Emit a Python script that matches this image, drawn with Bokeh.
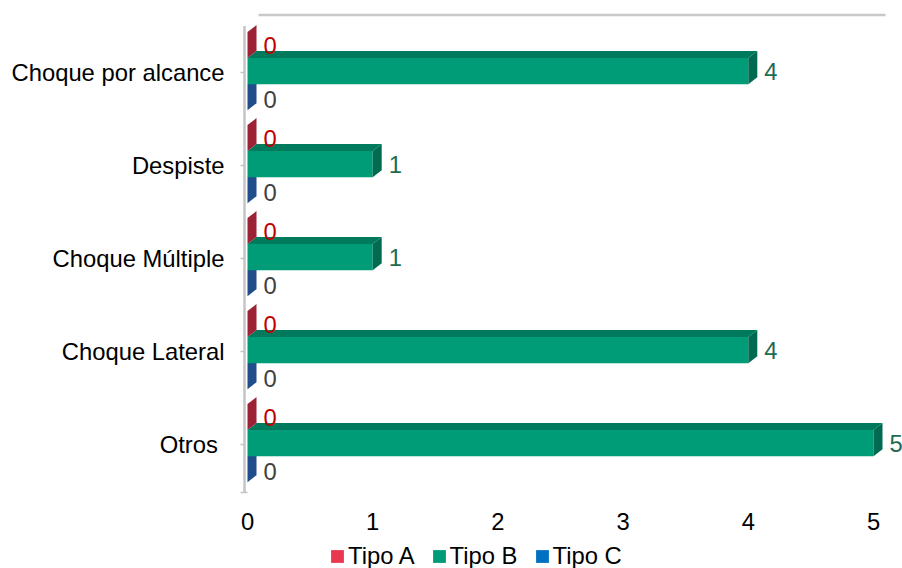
from bokeh.plotting import figure
from bokeh.layouts import column
from bokeh.models import Range1d, FixedTicker, Legend, LegendItem
from bokeh.embed import file_html
from bokeh.resources import INLINE
from bokeh.core.properties import value

# ---- data (categories listed bottom to top) ----
categories = ["Otros ", "Choque Lateral", "Choque Múltiple", "Despiste", "Choque por alcance"]
tipo_a = [0, 0, 0, 0, 0]
tipo_b = [5, 4, 1, 1, 4]
tipo_c = [0, 0, 0, 0, 0]
series_names = ["Tipo A", "Tipo B", "Tipo C"]
x_ticks = [0, 1, 2, 3, 4, 5]

FONT = "Liberation Sans"
FS = "23.8px"

# ---- styling / geometry ----
PX_X = 125.2   # px per x unit
PX_Y = 93.0    # px per category
DX = 9 / PX_X  # 3D depth in x
DY = 7 / PX_Y  # 3D depth in y
H = 0.28       # bar height (category units)
SHIFT = 0.015
offsets = {"Tipo A": 0.14, "Tipo B": -0.14, "Tipo C": -0.42}
front_col = {"Tipo A": "#E8384F", "Tipo B": "#009B77", "Tipo C": "#0070C0"}
top_col = {"Tipo A": "#B52A3C", "Tipo B": "#007A5C", "Tipo C": "#1A5A96"}
side_col = {"Tipo A": "#9B2335", "Tipo B": "#006B50", "Tipo C": "#1F4E8A"}
label_col = {"Tipo A": "#C00000", "Tipo B": "#1E6B52", "Tipo C": "#404040"}
label_dy = {"Tipo A": 0.0, "Tipo B": 0.0, "Tipo C": -0.03}

series_vals = {"Tipo A": tipo_a, "Tipo B": tipo_b, "Tipo C": tipo_c}

W = 902
H_MAIN = 545
H_LEG = 568 - H_MAIN
FRAME_LEFT = 238

p = figure(width=W, height=H_MAIN, output_backend="svg", toolbar_location=None,
           x_range=Range1d(-0.0719, 5.2316), y_range=Range1d(0.4516, 5.667),
           min_border_left=FRAME_LEFT, min_border_right=0, min_border_top=10,
           min_border_bottom=H_MAIN - 495)
p.outline_line_color = None
p.xgrid.visible = False
p.ygrid.visible = False
p.background_fill_color = "white"

# axes
p.xaxis.ticker = FixedTicker(ticks=x_ticks)
p.xaxis.axis_line_color = None
p.xaxis.major_tick_line_color = None
p.xaxis.minor_tick_line_color = None
p.xaxis.major_tick_out = 0
p.xaxis.major_label_standoff = 17
p.xaxis.major_label_text_font = FONT
p.xaxis.major_label_text_font_size = FS
p.xaxis.major_label_text_color = "#000000"

centers = [i + 1 for i in range(len(categories))]
p.yaxis.ticker = FixedTicker(ticks=centers)
p.yaxis.major_label_overrides = {c: cat for c, cat in zip(centers, categories)}
p.yaxis.axis_line_color = None
p.yaxis.major_tick_line_color = None
p.yaxis.minor_tick_line_color = None
p.yaxis.major_tick_out = 0
p.yaxis.major_label_standoff = 14
p.yaxis.major_label_text_font = FONT
p.yaxis.major_label_text_font_size = FS
p.yaxis.major_label_text_color = "#000000"

# 3D frame decorations
ax_x = -3 / PX_X
p.segment(x0=[ax_x], y0=[0.484], x1=[ax_x], y1=[5.5], line_color="#C4C4C4", line_width=2.5)
tick_len = 4 / PX_X
p.segment(x0=[ax_x - tick_len] * len(centers), y0=centers, x1=[ax_x] * len(centers), y1=centers,
          line_color="#C4C4C4", line_width=1.5)
p.segment(x0=[ax_x - tick_len], y0=[0.484], x1=[0.0], y1=[0.484], line_color="#C4C4C4", line_width=1.5)
p.segment(x0=[11 / PX_X], y0=[5.618], x1=[5.096], y1=[5.618], line_color="#C8C8C8", line_width=2.5)

for name in ["Tipo C", "Tipo B", "Tipo A"]:
    vals = series_vals[name]
    bottoms = [c + offsets[name] + SHIFT for c in centers]
    tops = [b + H for b in bottoms]
    p.quad(left=[0] * len(vals), right=vals, bottom=bottoms, top=tops,
           fill_color=front_col[name], line_color=None)
    # top faces
    txs = [[0, v, v + DX, DX] for v in vals]
    tys = [[t, t, t + DY, t + DY] for t in tops]
    p.patches(xs=txs, ys=tys, fill_color=top_col[name], line_color=None)
    # side faces
    sxs = [[v, v, v + DX, v + DX] for v in vals]
    sys_ = [[b, t, t + DY, b + DY] for b, t in zip(bottoms, tops)]
    p.patches(xs=sxs, ys=sys_, fill_color=side_col[name], line_color=None)
    # data labels
    p.text(x=vals, y=[(b + t) / 2 + label_dy[name] for b, t in zip(bottoms, tops)],
           text=[str(v) for v in vals], x_offset=16, text_align="left", text_baseline="middle",
           text_color=label_col[name], text_font=value(FONT), text_font_size=FS)

# ---- legend strip ----
pl = figure(width=W, height=H_LEG, output_backend="svg", toolbar_location=None,
            x_range=Range1d(0, 1), y_range=Range1d(0, 1),
            x_axis_location=None, y_axis_location=None,
            min_border_left=FRAME_LEFT, min_border_right=0, min_border_top=0, min_border_bottom=0)
pl.outline_line_color = None
pl.xgrid.visible = False
pl.ygrid.visible = False
leg_r = {}
for name in series_names:
    # swatch renderers kept outside the visible range; only their legend glyph shows
    leg_r[name] = pl.quad(left=[5], right=[6], bottom=[5], top=[6],
                          fill_color=front_col[name], line_color=None)

legend = Legend(items=[LegendItem(label=n, renderers=[leg_r[n]]) for n in series_names],
                orientation="horizontal", location=(329 - FRAME_LEFT, -2), padding=0, margin=0,
                spacing=16, label_standoff=3, glyph_width=16, glyph_height=16,
                border_line_color=None, background_fill_alpha=0,
                label_text_font=FONT, label_text_font_size=FS, label_text_color="#000000")
pl.add_layout(legend)

layout = column(p, pl, spacing=0)
open("out.html", "w").write(file_html(layout, INLINE))
